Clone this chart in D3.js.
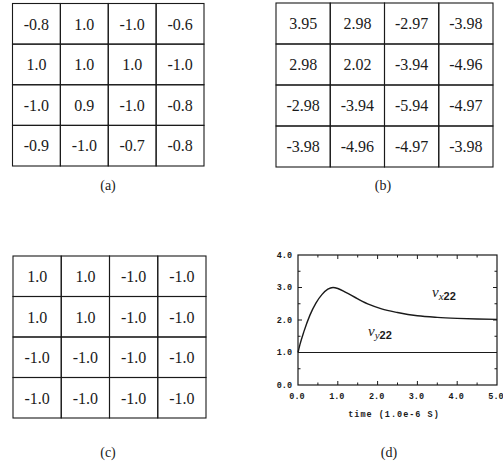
<!DOCTYPE html>
<html>
<head>
<meta charset="utf-8">
<script src="https://cdn.jsdelivr.net/npm/d3@7"></script>
<style>
  body { margin: 0; background: #fff; }
  svg { display: block; }
</style>
</head>
<body>
<div id="fig"></div>
<script>
// Grid values (row by row)
const gridA = [
  [-0.8, 1.0, -1.0, -0.6],
  [1.0, 1.0, 1.0, -1.0],
  [-1.0, 0.9, -1.0, -0.8],
  [-0.9, -1.0, -0.7, -0.8]
];
const gridB = [
  [3.95, 2.98, -2.97, -3.98],
  [2.98, 2.02, -3.94, -4.96],
  [-2.98, -3.94, -5.94, -4.97],
  [-3.98, -4.96, -4.97, -3.98]
];
const gridC = [
  [1.0, 1.0, -1.0, -1.0],
  [1.0, 1.0, -1.0, -1.0],
  [-1.0, -1.0, -1.0, -1.0],
  [-1.0, -1.0, -1.0, -1.0]
];

// Panel (d): velocity vs time
const timeVals = [0, 0.05, 0.15, 0.3, 0.45, 0.6, 0.75, 0.88, 1.0, 1.2, 1.5, 1.8, 2.1, 2.5, 3.0, 3.5, 4.0, 4.5, 5.0];
const vx22 = [1.0, 1.25, 1.65, 2.15, 2.52, 2.78, 2.95, 3.0, 2.97, 2.85, 2.65, 2.47, 2.34, 2.23, 2.13, 2.08, 2.05, 2.03, 2.02];
const vy22 = [1.0, 1.0, 1.0, 1.0, 1.0, 1.0, 1.0, 1.0, 1.0, 1.0, 1.0, 1.0, 1.0, 1.0, 1.0, 1.0, 1.0, 1.0, 1.0];
const xTicks = [0, 1, 2, 3, 4, 5];
const yTicks = [0, 1, 2, 3, 4];

const W = 503, H = 465;
const ink = "#1a1a1a";
const serif = "'Liberation Serif', 'Times New Roman', serif";

// plain hyphen for negatives, like the typeset original
const loc = d3.formatLocale({ decimal: ".", thousands: ",", grouping: [3], currency: ["", ""], minus: "-" });

const svg = d3.select("#fig")
    .append("svg")
    .attr("width", W)
    .attr("height", H);

// Draw a 4x4 table of numbers inside a box
function drawGrid(data, box, fmt, caption) {
    const g = svg.append("g");
    const x = d3.scaleBand().domain(d3.range(4)).range([box.x0, box.x1]);
    const y = d3.scaleBand().domain(d3.range(4)).range([box.y0, box.y1]);

    const cells = data.flatMap((row, r) => row.map((v, c) => ({ r, c, v })));

    g.selectAll("rect.cell")
        .data(cells)
        .enter().append("rect")
        .attr("class", "cell")
        .attr("x", d => x(d.c))
        .attr("y", d => y(d.r))
        .attr("width", x.bandwidth())
        .attr("height", y.bandwidth())
        .attr("fill", "none")
        .attr("stroke", ink)
        .attr("stroke-width", 1.1);

    g.selectAll("text.val")
        .data(cells)
        .enter().append("text")
        .attr("class", "val")
        .attr("x", d => x(d.c) + x.bandwidth() / 2)
        .attr("y", d => y(d.r) + y.bandwidth() / 2)
        .attr("dy", "0.36em")
        .attr("text-anchor", "middle")
        .style("font-family", serif)
        .style("font-size", "16px")
        .style("fill", ink)
        .text(d => fmt(d.v));

    svg.append("text")
        .attr("x", caption.x)
        .attr("y", caption.y)
        .attr("text-anchor", "middle")
        .style("font-family", serif)
        .style("font-size", "14px")
        .style("fill", ink)
        .text(caption.text);
}

drawGrid(gridA, { x0: 12.5, x1: 204, y0: 3.5, y1: 166 }, loc.format(".1f"), { x: 108, y: 190, text: "(a)" });
drawGrid(gridB, { x0: 276, x1: 493, y0: 3, y1: 167 }, loc.format(".2f"), { x: 383, y: 190, text: "(b)" });
drawGrid(gridC, { x0: 13, x1: 206, y0: 256, y1: 418 }, loc.format(".1f"), { x: 108, y: 457, text: "(c)" });

// Panel (d)
const px = d3.scaleLinear().domain([0, 5]).range([298, 497]);
const py = d3.scaleLinear().domain([0, 4]).range([385, 255]);
const mono = "'Liberation Mono', 'DejaVu Sans Mono', monospace";

const pd = svg.append("g");

pd.append("rect")
    .attr("x", px(0))
    .attr("y", py(4))
    .attr("width", px(5) - px(0))
    .attr("height", py(0) - py(4))
    .attr("fill", "none")
    .attr("stroke", ink)
    .attr("stroke-width", 1.2);

// inward ticks on all four sides (major + half-step minor)
const xMinor = d3.range(0.5, 5, 1);
const yMinor = d3.range(0.5, 4, 1);
[{ vals: xTicks.slice(1, -1), len: 4 }, { vals: xMinor, len: 2.5 }].forEach(t => {
    pd.selectAll(null).data(t.vals).enter().append("line")
        .attr("x1", d => px(d)).attr("x2", d => px(d))
        .attr("y1", py(0)).attr("y2", py(0) - t.len)
        .attr("stroke", ink).attr("stroke-width", 1);
    pd.selectAll(null).data(t.vals).enter().append("line")
        .attr("x1", d => px(d)).attr("x2", d => px(d))
        .attr("y1", py(4)).attr("y2", py(4) + t.len)
        .attr("stroke", ink).attr("stroke-width", 1);
});
[{ vals: yTicks.slice(1, -1), len: 4 }, { vals: yMinor, len: 2.5 }].forEach(t => {
    pd.selectAll(null).data(t.vals).enter().append("line")
        .attr("y1", d => py(d)).attr("y2", d => py(d))
        .attr("x1", px(0)).attr("x2", px(0) + t.len)
        .attr("stroke", ink).attr("stroke-width", 1);
    pd.selectAll(null).data(t.vals).enter().append("line")
        .attr("y1", d => py(d)).attr("y2", d => py(d))
        .attr("x1", px(5)).attr("x2", px(5) - t.len)
        .attr("stroke", ink).attr("stroke-width", 1);
});

pd.selectAll("text.xt")
    .data(xTicks)
    .enter().append("text")
    .attr("class", "xt")
    .attr("x", d => px(d) - 1)
    .attr("y", 399)
    .attr("text-anchor", "middle")
    .style("font-family", mono)
    .style("font-weight", "bold")
    .style("font-size", "8.5px")
    .style("fill", ink)
    .text(loc.format(".1f"));

pd.selectAll("text.yt")
    .data(yTicks)
    .enter().append("text")
    .attr("class", "yt")
    .attr("x", 292)
    .attr("y", d => py(d))
    .attr("dy", "0.35em")
    .attr("text-anchor", "end")
    .style("font-family", mono)
    .style("font-weight", "bold")
    .style("font-size", "8.5px")
    .style("fill", ink)
    .text(loc.format(".1f"));

pd.append("text")
    .attr("x", 394)
    .attr("y", 417)
    .attr("text-anchor", "middle")
    .style("font-family", mono)
    .style("font-weight", "bold")
    .style("font-size", "8.5px")
    .style("letter-spacing", "1px")
    .style("fill", ink)
    .text("time (1.0e-6 S)");

const line = d3.line()
    .x((d, i) => px(timeVals[i]))
    .y(d => py(d))
    .curve(d3.curveMonotoneX);

pd.append("path")
    .attr("d", line(vx22))
    .attr("fill", "none")
    .attr("stroke", ink)
    .attr("stroke-width", 1.4);

pd.append("path")
    .attr("d", line(vy22))
    .attr("fill", "none")
    .attr("stroke", ink)
    .attr("stroke-width", 1.2);

// series labels: italic v with subscript
function seriesLabel(x, y, sub) {
    const t = pd.append("text")
        .attr("x", x)
        .attr("y", y)
        .style("fill", ink);
    t.append("tspan")
        .style("font-family", serif)
        .style("font-style", "italic")
        .style("font-size", "15px")
        .text("v");
    t.append("tspan")
        .attr("dy", 3)
        .style("font-family", serif)
        .style("font-style", "italic")
        .style("font-size", "11px")
        .text(sub);
    t.append("tspan")
        .style("font-family", "'Liberation Sans', sans-serif")
        .style("font-weight", "bold")
        .style("font-size", "11px")
        .text("22");
}
seriesLabel(432, 297, "x");
seriesLabel(368, 336, "y");

svg.append("text")
    .attr("x", 389)
    .attr("y", 457)
    .attr("text-anchor", "middle")
    .style("font-family", serif)
    .style("font-size", "14px")
    .style("fill", ink)
    .text("(d)");
</script>
</body>
</html>
